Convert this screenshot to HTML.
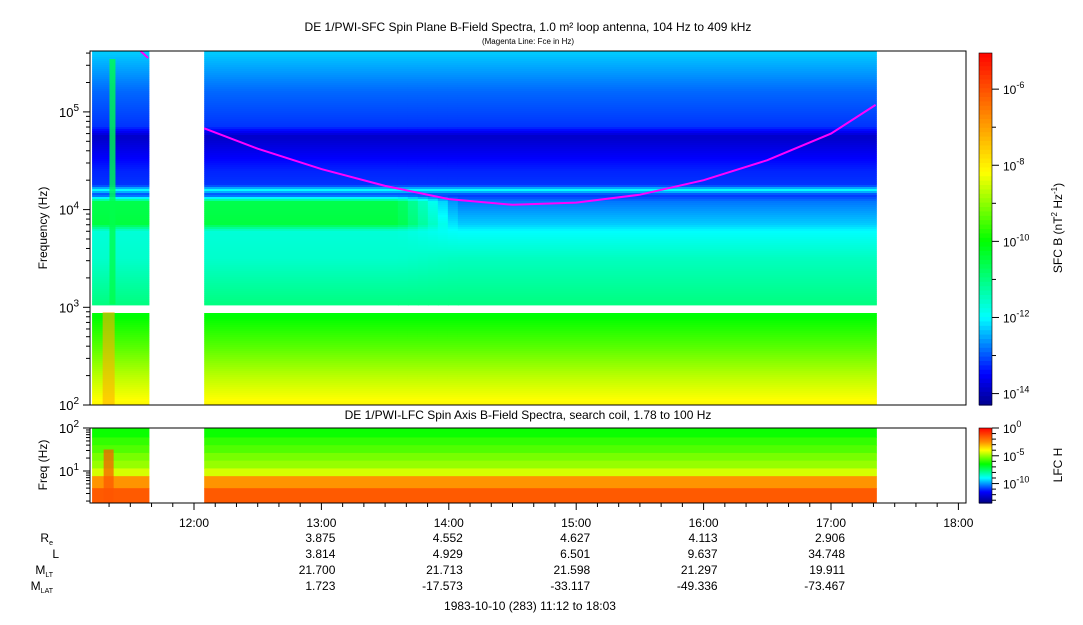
<!DOCTYPE html>
<html><head><meta charset="utf-8">
<style>
body{margin:0;background:#fff;font-family:"Liberation Sans",sans-serif;}
svg text{font-family:"Liberation Sans",sans-serif;fill:#000;}
</style></head>
<body>
<svg id="chart" width="1083" height="620" viewBox="0 0 1083 620" xmlns="http://www.w3.org/2000/svg">
<rect width="1083" height="620" fill="#fff"/>
<text x="528" y="31" font-size="12" text-anchor="middle">DE 1/PWI-SFC  Spin Plane B-Field Spectra, 1.0 m² loop antenna, 104 Hz to 409 kHz</text>
<text x="528" y="44" font-size="8" text-anchor="middle">(Magenta Line: Fce in Hz)</text>
<text x="528" y="419" font-size="12" text-anchor="middle">DE 1/PWI-LFC  Spin Axis B-Field Spectra, search coil, 1.78 to 100 Hz</text>
<g id="mainImg"></g>
<g id="lowImg"></g>
<g id="axes"></g>
<text transform="translate(47,228) rotate(-90)" font-size="12" text-anchor="middle">Frequency (Hz)</text>
<text transform="translate(47,465) rotate(-90)" font-size="12" text-anchor="middle">Freq (Hz)</text>
<text transform="translate(1062,228) rotate(-90)" font-size="12" text-anchor="middle">SFC B (nT<tspan dy="-5" font-size="8">2</tspan><tspan dy="5"> Hz</tspan><tspan dy="-5" font-size="8">-1</tspan><tspan dy="5">)</tspan></text>
<text transform="translate(1062,465) rotate(-90)" font-size="12" text-anchor="middle">LFC H</text>
<g id="footer"></g>
</svg>
<script>
// ---- data ----
const hourTicks = ["12:00","13:00","14:00","15:00","16:00","17:00","18:00"];
const hourValues = [12,13,14,15,16,17,18];
const ephemHours = [13,14,15,16,17];
const ephemRe = ["3.875","4.552","4.627","4.113","2.906"];
const ephemL = ["3.814","4.929","6.501","9.637","34.748"];
const ephemMLT = ["21.700","21.713","21.598","21.297","19.911"];
const ephemMLAT = ["1.723","-17.573","-33.117","-49.336","-73.467"];
// frequency knots (log10 Hz) and power (log10) levels
const sfcFreqKnots = [2.0,2.3,2.6,2.95,3.03,3.5,3.78,3.85,4.08,4.15,4.2,4.25,4.4,4.75,4.85,5.2,5.61];
const sfcLevelEarly = [-8.1,-8.7,-9.4,-10.1,-11.0,-11.6,-11.7,-10.5,-10.6,-13.2,-12.0,-13.2,-13.3,-13.9,-13.2,-12.9,-12.3];
const sfcLevelLate  = [-8.1,-8.7,-9.4,-10.1,-11.0,-11.5,-12.0,-12.3,-12.8,-13.2,-12.0,-13.2,-13.3,-13.9,-13.2,-12.9,-12.3];
const segStartHours = [11.2, 12.08];
const segEndHours = [11.65, 17.36];
const earlyEndHour = 13.6;
const burstHours = [11.36];
const burstLevel = [-10.6];
const lowBurstHour = [11.33];
const lowBurstLevel = [-7.2];
const fceHours = [12.08,12.5,13.0,13.5,14.0,14.5,15.0,15.5,16.0,16.5,17.0,17.35];
const fceHz = [68000,42000,26000,17500,12800,11200,11800,14200,20000,32000,60000,118000];
const lfcFreqEdges = [2.0,1.78,1.6,1.42,1.24,1.06,0.88,0.6,0.25];
const lfcLevel = [-6.4,-6.0,-5.7,-5.3,-5.0,-4.4,-2.6,-1.6];
// ---- scales ----
const X0=90,X1=966;
function xT(h){return 194+(h-12)*127.4;}
const MY0=51,MY1=405; function yM(lf){return 405-(lf-2)*97.7;}
const LY0=428,LY1=503; function yL(lf){return 428+(2-lf)*43;}
function grad(stops,v){
 if(v<=stops[0][0])return stops[0][1];
 for(let i=0;i<stops.length-1;i++){const a=stops[i],b=stops[i+1];if(v<=b[0]){const f=(v-a[0])/(b[0]-a[0]);
  return a[1].map((c,k)=>Math.round(c+(b[1][k]-c)*f));}}
 return stops[stops.length-1][1];}
const mainStops=[[-14.4,[0,0,130]],[-13.5,[0,0,255]],[-12,[0,255,255]],[-10,[0,255,0]],[-8.2,[255,255,0]],[-5,[255,0,0]]];
const lowStops=[[-13.5,[0,0,130]],[-11.5,[0,0,255]],[-9,[0,255,255]],[-6.5,[0,255,0]],[-5,[150,255,0]],[-4,[255,255,0]],[-2.5,[255,140,0]],[0,[255,0,0]]];
const mainCol=l=>{const c=grad(mainStops,l);return `rgb(${c[0]},${c[1]},${c[2]})`;};
const lowCol=l=>{const c=grad(lowStops,l);return `rgb(${c[0]},${c[1]},${c[2]})`;};
const NS="http://www.w3.org/2000/svg";
function mk(tag,attrs,parent){const e=document.createElementNS(NS,tag);for(const k in attrs)e.setAttribute(k,attrs[k]);parent.appendChild(e);return e;}
function interp(lf,levels){for(let i=0;i<sfcFreqKnots.length-1;i++){const a=sfcFreqKnots[i],b=sfcFreqKnots[i+1];if(lf>=a&&lf<=b){return levels[i]+(levels[i+1]-levels[i])*(lf-a)/(b-a);}}return levels[levels.length-1];}
const mainG=document.getElementById('mainImg');
for(let s=0;s<segStartHours.length;s++){
 const xa=Math.max(X0,xT(segStartHours[s])),xb=xT(segEndHours[s]);
 const xe=Math.min(xb,xT(earlyEndHour));
 for(let y=MY0;y<MY1;y+=2){
  const lf=2+(405-(y+1))/97.7;
  if(lf>2.95&&lf<3.03) continue;
  let r;
  if(s===0){r=mk('rect',{x:xa,y:y,width:xb-xa,height:2.4,fill:mainCol(interp(lf,sfcLevelEarly))},mainG);}
  else{
   r=mk('rect',{x:xa,y:y,width:xe-xa+1,height:2.4,fill:mainCol(interp(lf,sfcLevelEarly))},mainG);
   const gw=60;
   for(let k=0;k<6;k++){const lv=interp(lf,sfcLevelEarly)+(interp(lf,sfcLevelLate)-interp(lf,sfcLevelEarly))*(k+0.5)/6;
    mk('rect',{x:xe+k*gw/6,y:y,width:gw/6+1,height:2.4,fill:mainCol(lv)},mainG);}
   r=mk('rect',{x:xe+gw,y:y,width:xb-xe-gw,height:2.4,fill:mainCol(interp(lf,sfcLevelLate))},mainG);
  }
  
  
 }
}
for(let i=0;i<burstHours.length;i++){
 const b=mk('rect',{x:xT(burstHours[i])-3,y:MY0+8,width:6,height:yM(3.03)-MY0-8,fill:mainCol(burstLevel[i]),opacity:0.8},mainG);
 
 
}
for(let i=0;i<lowBurstHour.length;i++){
 const b=mk('rect',{x:xT(lowBurstHour[i])-6,y:yM(2.95),width:12,height:MY1-yM(2.95),fill:mainCol(lowBurstLevel[i]),opacity:0.6},mainG);
 
 
}
let d='';fceHours.forEach((h,i)=>{d+=(i?'L':'M')+xT(h).toFixed(1)+','+yM(Math.log10(fceHz[i])).toFixed(1);});
const fl=mk('path',{d:d,fill:'none',stroke:'#ff00ff','stroke-width':2},mainG);


const fl2=mk('line',{x1:xT(11.58),y1:MY0,x2:xT(11.64),y2:58,stroke:'#ff00ff','stroke-width':2},mainG);


const lowG=document.getElementById('lowImg');
for(let s=0;s<segStartHours.length;s++){
 const xa=Math.max(X0,xT(segStartHours[s])),xb=xT(segEndHours[s]);
 for(let i=0;i<lfcLevel.length;i++){
  const ya=Math.max(LY0,yL(lfcFreqEdges[i])),yb=Math.min(LY1,yL(lfcFreqEdges[i+1]));
  const r=mk('rect',{x:xa,y:ya,width:xb-xa,height:yb-ya+0.5,fill:lowCol(lfcLevel[i])},lowG);
  
  
 }
}
const lb=mk('rect',{x:xT(11.33)-5,y:yL(1.5),width:10,height:LY1-yL(1.5),fill:lowCol(-1.5),opacity:0.7},lowG);


const ax=document.getElementById('axes');
function frame(y0,y1,name){const r=mk('rect',{x:X0,y:y0,width:X1-X0,height:y1-y0,fill:'none',stroke:'#000','stroke-width':1},ax);
 
 }
frame(MY0,MY1,'main-plot-frame');frame(LY0,LY1,'lower-plot-frame');
function logTicks(yf,lo,hi,decades,lblSize){
 for(let dcd=Math.floor(lo);dcd<=hi;dcd++){for(let m=1;m<10;m++){const lf=dcd+Math.log10(m);if(lf<lo-1e-6||lf>hi+1e-6)continue;const y=yf(lf);
  mk('line',{x1:X0-(m===1?7:4),y1:y,x2:X0,y2:y,stroke:'#000'},ax);
  if(m===1&&decades.includes(dcd)){const t=mk('text',{x:X0-11,y:y+5,'font-size':lblSize,'text-anchor':'end'},ax);t.textContent='10';
   const s=mk('tspan',{dy:-6,'font-size':lblSize-3},t);s.textContent=dcd;
   
   }}}}
logTicks(yM,2,5.61,[2,3,4,5],13);
logTicks(yL,0.25,2,[1,2],13);
for(let m=11*60+20;m<=18*60;m+=10){const x=xT(m/60);mk('line',{x1:x,y1:LY1,x2:x,y2:LY1+(m%60===0?7:4),stroke:'#000'},ax);}
const ft=document.getElementById('footer');
hourTicks.forEach((lab,i)=>{const t=mk('text',{x:xT(hourValues[i]),y:527,'font-size':12,'text-anchor':'middle'},ft);t.textContent=lab;
 
 });
const rowY=[542,558,574,590];
const rowData=[ephemRe,ephemL,ephemMLT,ephemMLAT];
const rowLab=[['R','e'],['L',''],['M','LT'],['M','LAT']];
rowLab.forEach((l,i)=>{const t=mk('text',{x:l[1]?53:59,y:rowY[i],'font-size':12,'text-anchor':'end'},ft);t.textContent=l[0];
 if(l[1]){const s=mk('tspan',{dy:3,'font-size':7},t);s.textContent=l[1];}
 
 
 ephemHours.forEach((h,j)=>{const v=mk('text',{x:xT(h)+14,y:rowY[i],'font-size':12,'text-anchor':'end'},ft);v.textContent=rowData[i][j];
  
  });});
const fo=mk('text',{x:530,y:610,'font-size':12,'text-anchor':'middle'},ft);fo.textContent='1983-10-10 (283) 11:12 to 18:03';


function colorbar(y0,y1,lo,hi,colf,ticks,minor,name){
 const g=mk('g',{},ax);
 
 
 const n=80;for(let i=0;i<n;i++){const v=hi-(hi-lo)*(i+0.5)/n;mk('rect',{x:979,y:y0+(y1-y0)*i/n,width:13,height:(y1-y0)/n+0.6,fill:colf(v)},g);}
 mk('rect',{x:979,y:y0,width:13,height:y1-y0,fill:'none',stroke:'#000','stroke-width':0.6},g);
 const yv=v=>y0+(hi-v)/(hi-lo)*(y1-y0);
 minor.forEach(v=>mk('line',{x1:992,y1:yv(v),x2:996,y2:yv(v),stroke:'#000'},g));
 ticks.forEach(v=>{mk('line',{x1:992,y1:yv(v),x2:999,y2:yv(v),stroke:'#000'},g);
  const t=mk('text',{x:1003,y:yv(v)+5,'font-size':12},g);t.textContent='10';const s=mk('tspan',{dy:-6,'font-size':9},t);s.textContent=v;
  
  });}
colorbar(53,405,-14.3,-5.05,mainCol,[-6,-8,-10,-12,-14],[-7,-9,-11,-13],'sfc-colorbar');
colorbar(428,503,-13.5,0,lowCol,[0,-5,-10],[-1,-2,-3,-4,-6,-7,-8,-9,-11,-12,-13],'lfc-colorbar');
</script>
</body></html>
